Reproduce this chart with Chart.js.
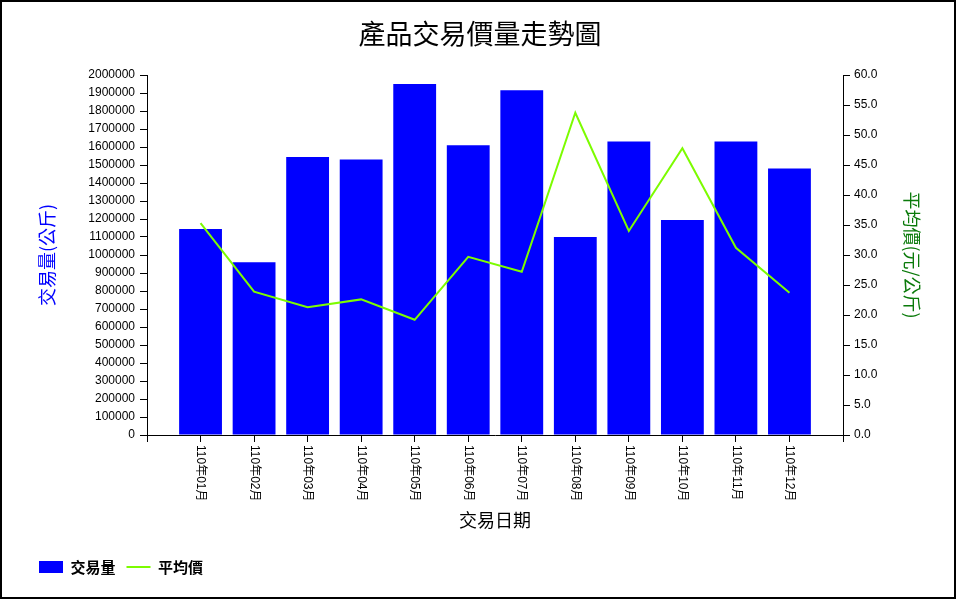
<!DOCTYPE html>
<html>
<head>
<meta charset="utf-8">
<script src="https://cdn.jsdelivr.net/npm/chart.js@4/dist/chart.umd.min.js"></script>
<style>
html,body{margin:0;padding:0;background:#fff;}
#wrap{width:960px;height:600px;}
</style>
</head>
<body>
<div id="wrap"><canvas id="c" width="960" height="600"></canvas></div>
<script>
const categories = ['110年01月','110年02月','110年03月','110年04月','110年05月','110年06月','110年07月','110年08月','110年09月','110年10月','110年11月','110年12月'];
const volumes = [1145000, 960000, 1545000, 1530000, 1950000, 1610000, 1915000, 1100000, 1630000, 1195000, 1630000, 1480000];
const prices = [35.3, 23.9, 21.3, 22.6, 19.2, 29.7, 27.2, 53.7, 34.0, 47.8, 31.2, 23.7];
const chartTitle = '產品交易價量走勢圖';
const xTitle = '交易日期';
const yLeftTitle = '交易量(公斤)';
const yRightTitle = '平均價(元/公斤)';
const seriesNames = ['交易量', '平均價'];

// pad categories with empty slots at both ends (axis has half-free space)
const labels = [''].concat(categories, ['']);
const volData = [null].concat(volumes, [null]);
const priceData = [null].concat(prices, [null]);

const bgPlugin = {
  id: 'bg',
  beforeDraw(chart) {
    const ctx = chart.ctx;
    ctx.save();
    ctx.fillStyle = '#fff';
    ctx.fillRect(0, 0, chart.width, chart.height);
    ctx.restore();
  },
  afterDraw(chart) {
    const ctx = chart.ctx;
    ctx.save();
    ctx.strokeStyle = '#000';
    ctx.lineWidth = 2;
    ctx.strokeRect(1, 1, 954, 597);
    ctx.restore();
  }
};

const xLabelPlugin = {
  id: 'xlabels',
  afterDraw(chart) {
    const ctx = chart.ctx;
    const xs = chart.scales.x;
    const top = chart.chartArea.bottom + 10;
    ctx.save();
    ctx.fillStyle = '#000';
    ctx.font = '12px "Liberation Sans", "Noto Sans CJK TC", sans-serif';
    ctx.textAlign = 'left';
    ctx.textBaseline = 'middle';
    for (let i = 1; i < labels.length - 1; i++) {
      const x = xs.getPixelForValue(i);
      ctx.save();
      ctx.translate(x, top);
      ctx.rotate(Math.PI / 2);
      ctx.fillText(labels[i], 0, 0);
      ctx.restore();
    }
    ctx.restore();
  }
};

new Chart(document.getElementById('c'), {
  data: {
    labels: labels,
    datasets: [
      {
        type: 'bar',
        label: seriesNames[0],
        data: volData,
        backgroundColor: '#0000FF',
        borderWidth: 0,
        yAxisID: 'y',
        order: 2,
        categoryPercentage: 1,
        barPercentage: 0.8
      },
      {
        type: 'line',
        label: seriesNames[1],
        data: priceData,
        borderColor: '#7CFC00',
        backgroundColor: '#7CFC00',
        borderWidth: 2,
        pointRadius: 0,
        tension: 0,
        yAxisID: 'y1',
        order: 1
      }
    ]
  },
  options: {
    responsive: false,
    animation: false,
    devicePixelRatio: 1,
    layout: { padding: { left: 28, right: 28, top: 0, bottom: 15.5 } },
    plugins: {
      tooltip: { enabled: false },
      title: {
        display: true,
        text: chartTitle,
        color: '#000',
        font: { family: '"Noto Sans CJK TC", sans-serif', size: 27, weight: 'normal' },
        padding: { top: 17.8, bottom: 24.8 }
      },
      legend: {
        position: 'bottom',
        align: 'start',
        labels: {
          color: '#000',
          font: { family: '"Noto Sans CJK TC", sans-serif', size: 15, weight: 'bold' },
          usePointStyle: true,
          pointStyleWidth: 24,
          boxHeight: 12,
          padding: 11,
          sort: (a, b) => a.datasetIndex - b.datasetIndex,
          generateLabels(chart) {
            const items = Chart.defaults.plugins.legend.labels.generateLabels(chart);
            items.forEach(it => {
              if (it.datasetIndex === 0) { it.pointStyle = 'rect'; it.lineWidth = 0; }
              else { it.pointStyle = 'line'; it.lineWidth = 2; it.strokeStyle = '#7CFC00'; }
            });
            return items;
          }
        }
      }
    },
    scales: {
      x: {
        type: 'category',
        offset: false,
        afterFit(scale) { scale.height = 113.5; },
        grid: { offset: false, drawOnChartArea: false, tickLength: 7, tickColor: '#000' },
        border: { color: '#000', width: 1 },
        ticks: { display: false },
        title: {
          display: true, text: xTitle, color: '#000',
          font: { family: '"Noto Sans CJK TC", sans-serif', size: 18 },
          padding: { top: 0, bottom: 17.7 }
        }
      },
      y: {
        type: 'linear',
        position: 'left',
        min: 0, max: 2000000,
        afterFit(scale) { scale.width = 119; },
        grid: { drawOnChartArea: false, tickLength: 7, tickColor: '#000' },
        border: { color: '#000', width: 1 },
        ticks: {
          stepSize: 100000, maxTicksLimit: 25, padding: 5, color: '#000',
          font: { family: '"Liberation Sans", Arial, sans-serif', size: 12 },
          callback: v => String(v)
        },
        title: {
          display: true, text: yLeftTitle, color: '#0000FF',
          font: { family: '"Noto Sans CJK TC", sans-serif', size: 18 },
          padding: { top: 8.2, bottom: 0 }
        }
      },
      y1: {
        type: 'linear',
        position: 'right',
        min: 0, max: 60,
        afterFit(scale) { scale.width = 89; },
        grid: { drawOnChartArea: false, tickLength: 7, tickColor: '#000' },
        border: { color: '#000', width: 1 },
        ticks: {
          stepSize: 5, maxTicksLimit: 25, padding: 4, color: '#000',
          font: { family: '"Liberation Sans", Arial, sans-serif', size: 12 },
          callback: v => Number(v).toFixed(1)
        },
        title: {
          display: true, text: yRightTitle, color: '#0A7A0A',
          font: { family: '"Noto Sans CJK TC", sans-serif', size: 18 },
          padding: { top: 9.2, bottom: 0 }
        }
      }
    }
  },
  plugins: [bgPlugin, xLabelPlugin]
});
</script>
</body>
</html>
